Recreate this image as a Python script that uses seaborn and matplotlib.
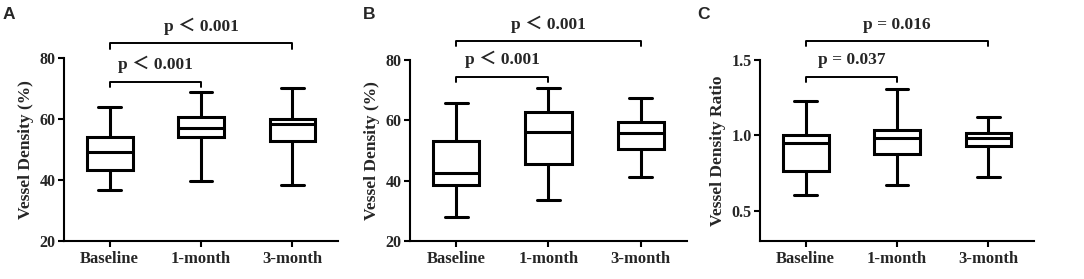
import pandas as pd
import matplotlib
matplotlib.use('Agg')
import matplotlib.pyplot as plt
import seaborn as sns

# five-number summaries: min, Q1, median, Q3, max
groups = ['Baseline', '1-month', '3-month']

vd_a_base = [36.6, 43.2, 49.1, 54.3, 64.1]
vd_a_1m = [39.6, 54.0, 57.2, 60.8, 68.9]
vd_a_3m = [38.3, 52.8, 58.3, 60.2, 70.1]

vd_b_base = [28.1, 38.5, 42.5, 53.3, 65.6]
vd_b_1m = [33.5, 45.4, 56.2, 62.7, 70.6]
vd_b_3m = [41.3, 50.4, 55.7, 59.3, 67.3]

ratio_base = [0.608, 0.763, 0.950, 1.003, 1.231]
ratio_1m = [0.670, 0.880, 0.983, 1.039, 1.306]
ratio_3m = [0.727, 0.933, 0.981, 1.014, 1.120]

ylabels = ['Vessel Density (%)', 'Vessel Density (%)', 'Vessel Density Ratio']
panel_letters = ['A', 'B', 'C']
p_inner = ['p \uff1c 0.001', 'p \uff1c 0.001', 'p = 0.037']
p_outer = ['p \uff1c 0.001', 'p \uff1c 0.001', 'p = 0.016']
bracket_inner = [72.3, 74.5, 1.39]
bracket_outer = [84.9, 86.3, 1.626]

panels = [
    [vd_a_base, vd_a_1m, vd_a_3m],
    [vd_b_base, vd_b_1m, vd_b_3m],
    [ratio_base, ratio_1m, ratio_3m],
]

sns.set_style('ticks')
plt.rcParams['font.family'] = ['Liberation Serif', 'Noto Sans CJK SC', 'DejaVu Sans']
plt.rcParams['font.weight'] = 'bold'

fig = plt.figure(figsize=(10.84, 2.79), dpi=100)
ax_pos = [
    [64 / 1084, 38 / 279, 274 / 1084, 182.7 / 279],
    [410 / 1084, 38 / 279, 277 / 1084, 181 / 279],
    [760 / 1084, 38 / 279, 274 / 1084, 181 / 279],
]
letter_x = [3, 363, 697]

for i in range(3):
    ax = fig.add_axes(ax_pos[i])
    rows = []
    for g, vals in zip(groups, panels[i]):
        for v in vals:
            rows.append({'group': g, 'value': v})
    df = pd.DataFrame(rows)
    sns.boxplot(data=df, x='group', y='value', order=groups, ax=ax,
                color='white', linecolor='black', linewidth=2.2,
                width=0.5, whis=(0, 100), showfliers=False)
    ax.set_xlim(-0.5, 2.5)
    if i < 2:
        ax.set_ylim(20, 80)
        ax.set_yticks([20, 40, 60, 80])
        drop = 1.7
    else:
        ax.set_ylim(0.3, 1.5)
        ax.set_yticks([0.5, 1.0, 1.5])
        ax.set_yticklabels(['0.5', '1.0', '1.5'])
        drop = 0.035
    ax.set_xlabel('')
    ax.set_ylabel(ylabels[i], fontsize=12.5, fontweight='bold', labelpad=4)
    for side in ['top', 'right']:
        ax.spines[side].set_visible(False)
    for side in ['left', 'bottom']:
        ax.spines[side].set_linewidth(1.5)
        ax.spines[side].set_color('black')
    ax.tick_params(axis='both', width=1.5, length=4, color='black')
    ax.tick_params(axis='x', labelsize=12, pad=3)
    ax.tick_params(axis='y', labelsize=11.5, pad=2)
    for lab in ax.get_xticklabels() + ax.get_yticklabels():
        lab.set_fontweight('bold')

    # significance brackets
    for (x0, x1), yb, txt in [((0, 1), bracket_inner[i], p_inner[i]),
                              ((0, 2), bracket_outer[i], p_outer[i])]:
        ax.plot([x0, x0, x1, x1], [yb - drop, yb, yb, yb - drop],
                color='black', lw=1.4, clip_on=False)
        ax.annotate(txt, xy=((x0 + x1) / 2, yb), xytext=(0, 6),
                    textcoords='offset points', ha='center', va='bottom',
                    fontsize=12.5, fontweight='bold', annotation_clip=False)

    fig.text(letter_x[i] / 1084, 1 - 7 / 279, panel_letters[i],
             fontsize=12.5, fontweight='bold', family='Liberation Sans',
             va='top', ha='left')

fig.savefig('out.png', dpi=100)
